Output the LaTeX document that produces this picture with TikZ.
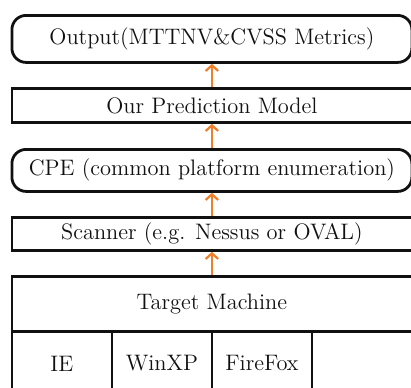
\documentclass[tikz,border=0pt]{standalone}
\usetikzlibrary{arrows.meta,positioning}
\definecolor{ink}{HTML}{111111}
\definecolor{flowOrange}{HTML}{F07F2A}
\tikzset{
  layer card/.style={
    draw=ink,
    fill=white,
    line width=1.4pt,
    minimum width=200pt,
    inner sep=0pt,
    font=\fontsize{11.2}{13}\selectfont,
    text=ink
  },
  rounded layer/.style={
    layer card,
    rounded corners=2.5mm
  },
  cell card/.style={
    layer card,
    minimum width=50pt,
    minimum height=32pt
  },
  flow edge/.style={
    -{Straight Barb[length=1mm,width=2.2mm]},
    draw=flowOrange,
    line width=1.1pt
  }
}
\begin{document}
\begin{tikzpicture}[node distance=11.6pt]
  \clip (0,0) rectangle (205.5pt,-193.5pt);
  \node[rounded layer,minimum height=23.5pt,anchor=north west] (output) at (5.25pt,-7pt) {Output(MTTNV\&CVSS Metrics)};
  \node[layer card,minimum height=17pt,below=of output] (model) {Our Prediction Model};
  \node[rounded layer,minimum height=21pt,below=12.1pt of model] (cpe) {CPE (common platform enumeration)};
  \node[layer card,minimum height=16.5pt,below=of cpe] (scanner) {Scanner (e.g. Nessus or OVAL)};
  \node[layer card,minimum height=27.5pt,below=of scanner] (target) {Target Machine};

  % software cells below the target machine
  \node[cell card,below=-1.4pt of target.south west,anchor=north west] (ie) {IE};
  \node[cell card,right=-1.4pt of ie] (winxp) {WinXP};
  \node[cell card,right=-1.4pt of winxp] (firefox) {FireFox};
  \node[cell card,right=-1.4pt of firefox] (spare) {};

  \draw[flow edge] (model) -- (output);
  \draw[flow edge] (cpe) -- (model);
  \draw[flow edge] (scanner) -- (cpe);
  \draw[flow edge] (target) -- (scanner);
\end{tikzpicture}
\end{document}
